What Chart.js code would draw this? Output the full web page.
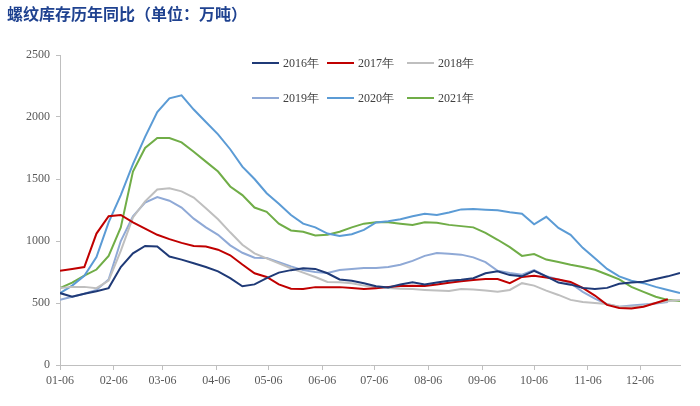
<!DOCTYPE html>
<html>
<head>
<meta charset="utf-8">
<script src="https://cdn.jsdelivr.net/npm/chart.js@4.4.1/dist/chart.umd.min.js"></script>
<style>
  body { margin: 0; background: #fff; }
  #wrap { width: 700px; height: 406px; position: relative; }
</style>
</head>
<body>
<div id="wrap"><canvas id="myChart"></canvas></div>
<script>
// day of year (0 = 1 Jan) for each weekly reading
var weekDays = [5, 12, 19, 26, 33, 40, 47, 54, 61, 68, 75, 82, 89, 96, 103, 110, 117, 124, 131, 138,
  145, 152, 159, 166, 173, 180, 187, 194, 201, 208, 215, 222, 229, 236, 243, 250, 257, 264, 271, 278,
  285, 292, 299, 306, 313, 320, 327, 334, 341, 348, 355, 362];

// axis labels
var tickDays = [5, 36, 64, 95, 125, 156, 186, 217, 248, 278, 309, 339];
var tickLabels = ['01-06', '02-06', '03-06', '04-06', '05-06', '06-06', '07-06', '08-06', '09-06', '10-06', '11-06', '12-06'];

var years = ['2016年', '2017年', '2018年', '2019年', '2020年', '2021年'];

var y2016 = [580, 550, 575, 595, 620, 790, 900, 960, 955, 875, 850, 820, 790, 755, 700, 635, 650, 700, 745, 765,
  780, 775, 740, 690, 680, 660, 635, 625, 650, 668, 650, 665, 680, 688, 700, 740, 755, 725, 715, 760,
  715, 665, 648, 622, 613, 622, 655, 665, 672, 694, 715, 742];
var y2017 = [760, 775, 790, 1060, 1200, 1210, 1150, 1100, 1050, 1015, 985, 960, 955, 930, 885, 810, 740, 710, 650, 615,
  613, 628, 628, 628, 620, 613, 618, 630, 637, 640, 637, 650, 663, 675, 686, 694, 694, 660, 710, 720,
  705, 690, 670, 621, 560, 485, 460, 455, 470, 500, 530, null];
var y2018 = [620, 630, 630, 620, 680, 920, 1190, 1320, 1415, 1425, 1400, 1350, 1265, 1175, 1070, 970, 900, 860, 820, 780,
  745, 710, 670, 668, 660, 640, 625, 620, 615, 612, 605, 600, 597, 612, 608, 600, 590, 605, 660, 640,
  600, 565, 525, 508, 500, 492, 470, 470, 478, 500, 515, 524];
var y2019 = [525, 550, 575, 605, 690, 1000, 1200, 1310, 1355, 1325, 1270, 1180, 1110, 1050, 965, 905, 865, 863, 830, 795,
  765, 750, 742, 766, 775, 782, 782, 790, 808, 840, 880, 903, 898, 890, 868, 830, 760, 742, 728, 766,
  715, 690, 660, 590, 535, 490, 470, 480, 488, 495, 508, null];
var y2020 = [580, 640, 720, 870, 1150, 1370, 1620, 1840, 2040, 2150, 2175, 2060, 1960, 1860, 1740, 1600, 1500, 1385, 1300, 1210,
  1140, 1110, 1060, 1040, 1055, 1090, 1150, 1160, 1175, 1200, 1220, 1210, 1230, 1255, 1258, 1252, 1248, 1232, 1220, 1135,
  1195, 1105, 1050, 945, 860, 775, 715, 680, 660, 630, 605, 580];
var y2021 = [620, 665, 720, 770, 880, 1110, 1560, 1750, 1830, 1830, 1795, 1720, 1640, 1560, 1440, 1370, 1270, 1235, 1140, 1085,
  1075, 1045, 1050, 1075, 1110, 1140, 1152, 1152, 1140, 1130, 1152, 1148, 1130, 1120, 1110, 1065, 1010, 950, 880, 895,
  850, 830, 808, 790, 768, 730, 690, 630, 590, 550, 525, 516];

var colors = ['#1f3a77', '#c00000', '#bfbfbf', '#8fa9d6', '#5b9bd5', '#70ad47'];

function toPoints(vals) {
  return weekDays.map(function (d, i) { return { x: d, y: vals[i] }; });
}

var series = [y2016, y2017, y2018, y2019, y2020, y2021];
var datasets = series.map(function (vals, i) {
  return {
    label: years[i],
    data: toPoints(vals),
    borderColor: colors[i],
    backgroundColor: colors[i],
    borderWidth: 2,
    pointRadius: 0,
    tension: 0,
    spanGaps: false
  };
});

// title and two-row legend drawn on top of the plot
var overlay = {
  id: 'overlay',
  afterDraw: function (chart) {
    var c = chart.ctx;
    c.save();
    c.fillStyle = '#1f4290';
    c.font = 'bold 16px "Noto Sans CJK SC"';
    c.textBaseline = 'middle';
    c.textAlign = 'left';
    c.fillText('螺纹库存历年同比（单位：万吨）', 7, 14);

    var lineX = [252, 327, 407];
    var rowY = [63, 98];
    c.font = '12px "Liberation Serif"';
    chart.data.datasets.forEach(function (ds, i) {
      var x = lineX[i % 3], y = rowY[Math.floor(i / 3)];
      c.strokeStyle = ds.borderColor;
      c.lineWidth = 2;
      c.beginPath();
      c.moveTo(x, y);
      c.lineTo(x + 27, y);
      c.stroke();
      c.fillStyle = '#404040';
      c.fillText(ds.label, x + 31, y + 1);
    });
    c.restore();
  }
};

var ctx = document.getElementById('myChart').getContext('2d');
var myChart = new Chart(ctx, {
  type: 'line',
  data: { datasets: datasets },
  options: {
    responsive: true,
    maintainAspectRatio: false,
    animation: false,
    layout: { padding: { top: 55, right: 20, left: 0, bottom: 0 } },
    plugins: {
      legend: { display: false },
      tooltip: { enabled: false }
    },
    scales: {
      x: {
        type: 'linear',
        min: 5,
        max: 362,
        afterBuildTicks: function (axis) {
          axis.ticks = tickDays.map(function (d) { return { value: d }; });
        },
        afterFit: function (axis) { axis.height = 41; },
        ticks: {
          autoSkip: false,
          maxRotation: 0,
          padding: 4,
          color: '#595959',
          font: { family: 'Liberation Serif', size: 12 },
          callback: function (v) {
            var i = tickDays.indexOf(v);
            return i >= 0 ? tickLabels[i] : '';
          }
        },
        grid: { drawOnChartArea: false, tickLength: 5, color: '#bfbfbf' },
        border: { color: '#bfbfbf' }
      },
      y: {
        min: 0,
        max: 2500,
        afterFit: function (axis) { axis.width = 60; },
        ticks: {
          stepSize: 500,
          padding: 6,
          color: '#595959',
          font: { family: 'Liberation Serif', size: 12 },
          callback: function (v) { return String(v); }
        },
        grid: { drawOnChartArea: false, tickLength: 4, color: '#bfbfbf' },
        border: { color: '#bfbfbf' }
      }
    }
  },
  plugins: [overlay]
});
</script>
</body>
</html>
